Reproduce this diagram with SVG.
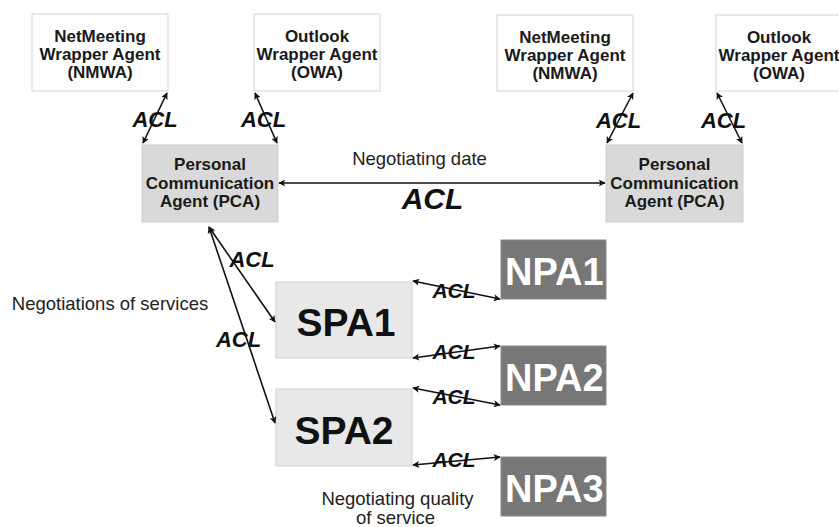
<svg xmlns="http://www.w3.org/2000/svg" width="839" height="527" viewBox="0 0 839 527">
<style>
.wb{fill:#ffffff;stroke:#d4d4d4;stroke-width:1}
.pca{fill:#d9d9d9;stroke:#cfcfcf;stroke-width:1}
.spa{fill:#e8e8e8;stroke:#d0d0d0;stroke-width:1}
.npa{fill:#777777;stroke:#8a8a8a;stroke-width:1}
.t{font-family:"Liberation Sans",Arial,sans-serif;font-weight:bold;font-size:17px;fill:#1a1a1a;text-anchor:middle}
.big{font-family:"Liberation Sans",Arial,sans-serif;font-weight:bold;font-size:39px;fill:#111;text-anchor:middle}
.nt{font-family:"Liberation Sans",Arial,sans-serif;font-weight:bold;font-size:38px;fill:#ffffff;text-anchor:start}
.acl{font-family:"Liberation Sans",Arial,sans-serif;font-weight:bold;font-style:italic;font-size:22px;fill:#111;text-anchor:middle}
.lbl{font-family:"Liberation Sans",Arial,sans-serif;font-size:18.5px;fill:#222;text-anchor:middle}
.c{stroke:#111;stroke-width:1.6;fill:none;marker-start:url(#ah);marker-end:url(#ah)}
</style>
<defs>
<marker id="ah" viewBox="0 0 10 10" refX="9" refY="5" markerWidth="7" markerHeight="7" markerUnits="userSpaceOnUse" orient="auto-start-reverse">
<path d="M0,0 L10,5 L0,10 L2.5,5 z" fill="#111"/>
</marker>
</defs>
<rect width="839" height="527" fill="#ffffff"/>

<g id="nmwa-left">
<rect class="wb" x="32" y="14" width="136" height="77"/>
<text class="t" x="100" y="42">NetMeeting</text>
<text class="t" x="100" y="60">Wrapper Agent</text>
<text class="t" x="100" y="78">(NMWA)</text>
</g>
<g id="owa-left">
<rect class="wb" x="254" y="14" width="126" height="77"/>
<text class="t" x="317" y="42">Outlook</text>
<text class="t" x="317" y="60">Wrapper Agent</text>
<text class="t" x="317" y="78">(OWA)</text>
</g>
<g id="nmwa-right">
<rect class="wb" x="497" y="15" width="136" height="76"/>
<text class="t" x="565" y="43">NetMeeting</text>
<text class="t" x="565" y="61">Wrapper Agent</text>
<text class="t" x="565" y="79">(NMWA)</text>
</g>
<g id="owa-right">
<rect class="wb" x="716" y="15" width="130" height="76"/>
<text class="t" x="779" y="43">Outlook</text>
<text class="t" x="779" y="61">Wrapper Agent</text>
<text class="t" x="779" y="79">(OWA)</text>
</g>
<g id="pca-left">
<rect class="pca" x="142" y="145" width="136" height="77"/>
<text class="t" x="210" y="170">Personal</text>
<text class="t" x="210" y="188.5">Communication</text>
<text class="t" x="210" y="207">Agent (PCA)</text>
</g>
<g id="pca-right">
<rect class="pca" x="606" y="145" width="137" height="77"/>
<text class="t" x="674.5" y="170">Personal</text>
<text class="t" x="674.5" y="188.5">Communication</text>
<text class="t" x="674.5" y="207">Agent (PCA)</text>
</g>
<g id="spa1">
<rect class="spa" x="276" y="282" width="136" height="76"/>
<text class="big" x="346" y="336">SPA1</text>
</g>
<g id="spa2">
<rect class="spa" x="276" y="389" width="136" height="77"/>
<text class="big" x="344" y="444">SPA2</text>
</g>
<g id="npa1">
<rect class="npa" x="501" y="240" width="105" height="59"/>
<text class="nt" x="505" y="285">NPA1</text>
</g>
<g id="npa2">
<rect class="npa" x="501" y="346" width="105" height="59"/>
<text class="nt" x="505" y="391">NPA2</text>
</g>
<g id="npa3">
<rect class="npa" x="501" y="457" width="105" height="59"/>
<text class="nt" x="505" y="502">NPA3</text>
</g>

<g id="connectors">
<line class="c" x1="167" y1="93" x2="143" y2="143"/>
<line class="c" x1="255" y1="93" x2="277" y2="143"/>
<line class="c" x1="633" y1="93" x2="607" y2="143"/>
<line class="c" x1="717" y1="93" x2="742" y2="143"/>
<line class="c" x1="279" y1="183" x2="605" y2="183"/>
<line class="c" x1="209" y1="227" x2="275" y2="322"/>
<line class="c" x1="209" y1="227" x2="275" y2="423"/>
<line class="c" x1="413" y1="281" x2="500" y2="299"/>
<line class="c" x1="413" y1="358" x2="500" y2="346"/>
<line class="c" x1="413" y1="388" x2="500" y2="405"/>
<line class="c" x1="413" y1="465" x2="500" y2="457"/>
</g>

<g id="labels">
<text class="acl" x="155" y="127">ACL</text>
<text class="acl" x="263.5" y="127">ACL</text>
<text class="acl" x="618.5" y="128">ACL</text>
<text class="acl" x="723.5" y="128">ACL</text>
<text class="lbl" x="419.5" y="165">Negotiating date</text>
<text class="acl" x="432.5" y="209" style="font-size:30px">ACL</text>
<text class="acl" x="252" y="267">ACL</text>
<text class="acl" x="238.5" y="347">ACL</text>
<text class="lbl" x="110" y="310">Negotiations of services</text>
<text class="acl" x="454" y="298" style="font-size:21px">ACL</text>
<text class="acl" x="454" y="359" style="font-size:21px">ACL</text>
<text class="acl" x="454" y="404" style="font-size:21px">ACL</text>
<text class="acl" x="454" y="467" style="font-size:21px">ACL</text>
<text class="lbl" x="397.5" y="505">Negotiating quality</text>
<text class="lbl" x="395.5" y="524">of service</text>
</g>
</svg>
